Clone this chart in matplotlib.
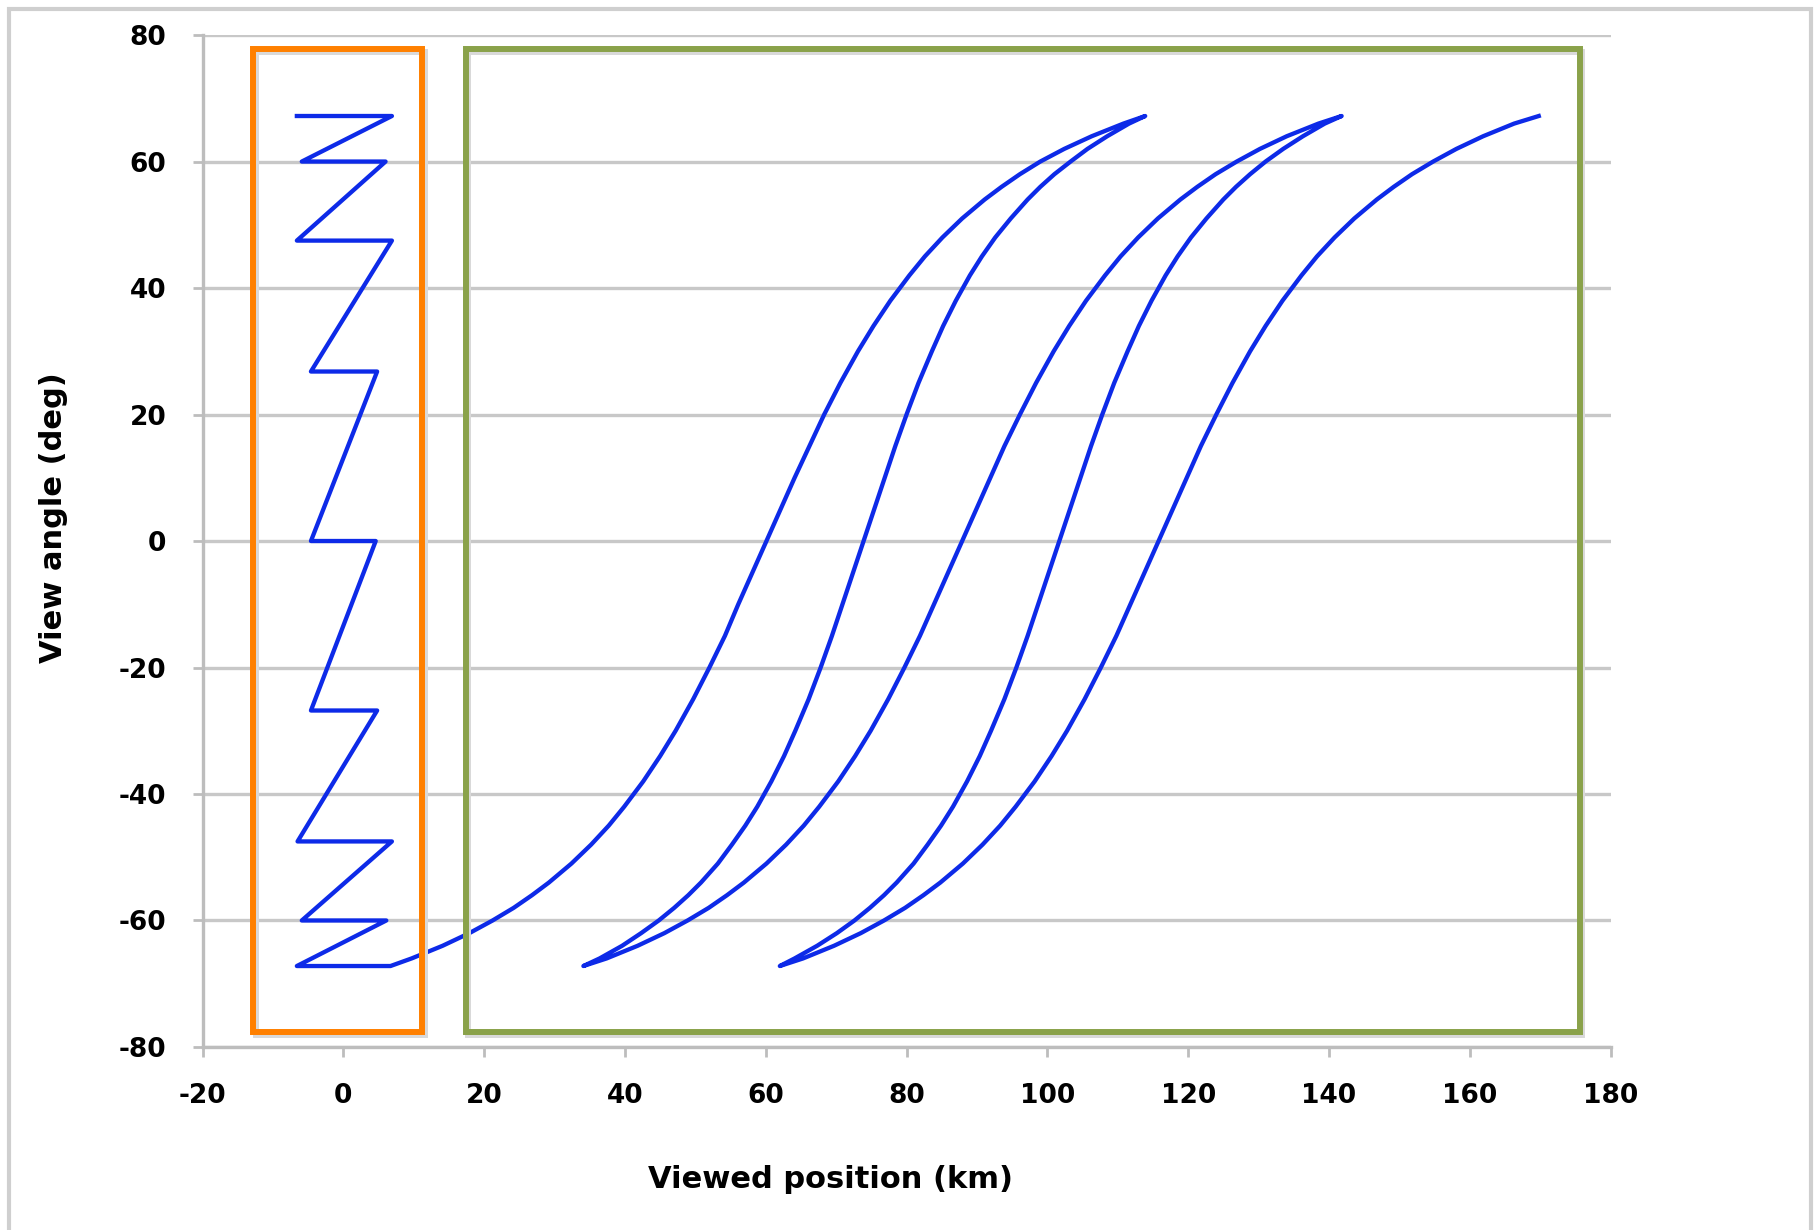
import matplotlib
matplotlib.use("Agg")
import matplotlib.pyplot as plt
from matplotlib.patches import Rectangle

# zig-zag scan (left box)
zigzag_x = [-6.6, 6.9, -5.9, 6.0, -6.6, 6.9, -4.6, 4.8, -4.6, 4.6,
            -4.6, 4.8, -6.5, 6.9, -5.9, 6.1, -6.6, 6.7]
zigzag_y = [67.2, 67.2, 60.0, 60.0, 47.5, 47.5, 26.8, 26.8, 0.0, 0.0,
            -26.8, -26.8, -47.5, -47.5, -60.0, -60.0, -67.2, -67.2]

# view angles sampled along each sweep (forward sweeps go up, return sweeps go down)
angles_up = [-67.2, -66, -64, -62, -60, -58, -56, -54, -51, -48, -45, -42, -38, -34,
             -30, -25, -20, -15, -10, -5, 0, 5, 10, 15, 20, 25, 30, 34, 38, 42,
             45, 48, 51, 54, 56, 58, 60, 62, 64, 66, 67.2]
angles_down = [67.2, 66, 64, 62, 60, 58, 56, 54, 51, 48, 45, 42, 38, 34, 30, 25,
               20, 15, 10, 5, 0, -5, -10, -15, -20, -25, -30, -34, -38, -42, -45,
               -48, -51, -54, -56, -58, -60, -62, -64, -66, -67.2]

# viewed positions (km)
sweep1_x = [6.7, 9.7, 14.1, 17.9, 21.2, 24.2, 26.8, 29.2, 32.4, 35.2, 37.7, 39.9,
            42.6, 45.0, 47.2, 49.7, 52.0, 54.2, 56.1, 58.1, 60.1, 62.1, 64.1, 66.2,
            68.3, 70.6, 73.1, 75.3, 77.7, 80.4, 82.6, 85.1, 87.9, 91.1, 93.5, 96.1,
            99.0, 102.4, 106.3, 110.8, 113.9]
sweep2_x = [113.9, 111.6, 108.5, 105.7, 103.3, 101.0, 99.0, 97.2, 94.8, 92.6, 90.7,
            89.0, 87.0, 85.2, 83.6, 81.7, 80.0, 78.4, 76.9, 75.4, 73.9, 72.4, 70.9,
            69.4, 67.8, 66.1, 64.2, 62.6, 60.8, 58.8, 57.1, 55.2, 53.2, 50.8, 49.0,
            47.0, 44.8, 42.3, 39.6, 36.4, 34.1]
sweep3_x = [34.1, 37.4, 41.8, 45.6, 48.9, 51.9, 54.5, 56.9, 60.1, 62.9, 65.4, 67.6,
            70.3, 72.7, 74.9, 77.4, 79.7, 81.9, 83.9, 85.9, 87.9, 89.9, 91.9, 93.9,
            96.1, 98.4, 100.9, 103.1, 105.5, 108.2, 110.4, 112.9, 115.7, 118.9,
            121.3, 123.9, 126.9, 130.2, 134.0, 138.5, 141.8]
sweep4_x = [141.8, 139.4, 136.3, 133.5, 131.0, 128.8, 126.8, 125.0, 122.6, 120.4,
            118.5, 116.8, 114.8, 113.0, 111.4, 109.5, 107.8, 106.2, 104.7, 103.2,
            101.7, 100.2, 98.7, 97.2, 95.6, 93.9, 92.0, 90.4, 88.6, 86.6, 84.9,
            83.0, 81.0, 78.6, 76.8, 74.8, 72.6, 70.1, 67.3, 64.1, 62.0]
sweep5_x = [62.0, 65.3, 69.7, 73.5, 76.8, 79.8, 82.4, 84.8, 88.0, 90.8, 93.3, 95.5,
            98.2, 100.6, 102.8, 105.3, 107.6, 109.8, 111.8, 113.8, 115.8, 117.8,
            119.8, 121.8, 124.0, 126.3, 128.8, 131.0, 133.4, 136.1, 138.3, 140.8,
            143.6, 146.8, 149.2, 151.8, 154.8, 158.1, 161.9, 166.3, 169.8]

# highlight boxes: x0, x1, y0, y1 in data units
orange_box = [-12.8, 11.2, -77.6, 77.8]
green_box = [17.4, 175.6, -77.6, 77.8]

x_ticks = list(range(-20, 181, 20))
y_ticks = list(range(-80, 81, 20))

plt.rcParams['font.family'] = ['DejaVu Sans']
plt.rcParams['axes.unicode_minus'] = False

fig = plt.figure(figsize=(18.18, 12.3), dpi=100)
fig.patch.set_facecolor('white')
ax = fig.add_axes([0.1114, 0.1488, 0.7745, 0.8227])

# one continuous trace: zig-zag, then the five sweeps
xs = list(zigzag_x)
ys = list(zigzag_y)
sweeps = [(sweep1_x, angles_up), (sweep2_x, angles_down), (sweep3_x, angles_up),
          (sweep4_x, angles_down), (sweep5_x, angles_up)]
for sx, sy in sweeps:
    xs += sx[1:]
    ys += sy[1:]
ax.plot(xs, ys, color='#0d2ae8', lw=3.1, solid_joinstyle='round', zorder=3)

ax.set_xlim(-20, 180)
ax.set_ylim(-80, 80)
ax.set_xticks(x_ticks)
ax.set_yticks(y_ticks)
ax.yaxis.grid(True, color='#c8c8c8', lw=2.4)
ax.set_axisbelow(True)
for s in ['top', 'right']:
    ax.spines[s].set_visible(False)
for s in ['left', 'bottom']:
    ax.spines[s].set_color('#bdbdbd')
    ax.spines[s].set_linewidth(2.4)
ax.tick_params(direction='out', length=7, width=2, color='#bdbdbd',
               labelsize=19, pad=19)
for lab in ax.get_xticklabels() + ax.get_yticklabels():
    lab.set_fontweight('bold')

# boxes, with a faint drop shadow
for box, col in [(orange_box, '#ff8000'), (green_box, '#8aa24a')]:
    w = box[1] - box[0]
    h = box[3] - box[2]
    sh = Rectangle((box[0] + 0.35, box[2] - 0.45), w, h, fill=False,
                   edgecolor='#d9d9d9', lw=4.3, clip_on=False, zorder=3.5)
    ax.add_patch(sh)
    r = Rectangle((box[0], box[2]), w, h, fill=False, edgecolor=col, lw=4.3,
                  clip_on=False, zorder=4)
    ax.add_patch(r)

fig.text(53 / 1818, 1 - 518 / 1230, 'View angle (deg)', rotation=90,
         ha='center', va='center', fontsize=22, fontweight='bold')
fig.text(831 / 1818, 1 - 1179 / 1230, 'Viewed position (km)',
         ha='center', va='center', fontsize=22, fontweight='bold')

# chart area border
fig.patches.append(Rectangle((9 / 1818, -0.05), 1802 / 1818, 1.05 - 9 / 1230,
                             transform=fig.transFigure, fill=False,
                             edgecolor='#cfcfcf', lw=3))

fig.savefig('out.png', dpi=100)
